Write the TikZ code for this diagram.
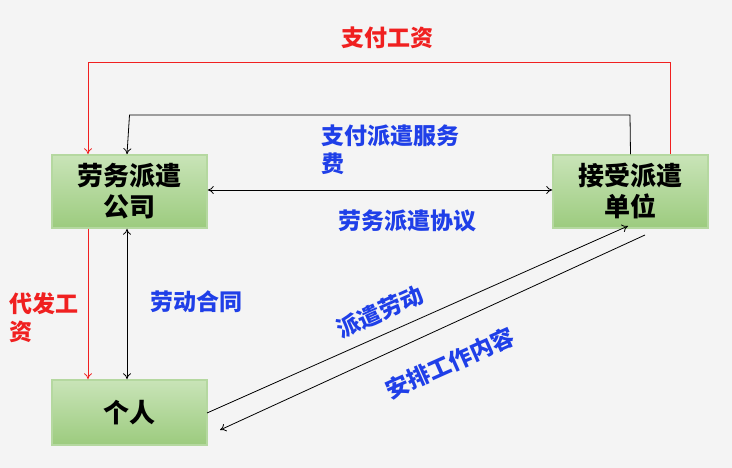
\documentclass[tikz,border=0pt]{standalone}
\usepackage{fontspec}
\setmainfont{Noto Sans CJK SC}
\usetikzlibrary{arrows.meta,positioning}
\definecolor{bg}{HTML}{F4F4F4}
\definecolor{gtop}{HTML}{C9E4B8}
\definecolor{gbot}{HTML}{9CCB7E}
\definecolor{gedge}{HTML}{B5D8A0}
\definecolor{lblue}{HTML}{1F3FE8}
\definecolor{lred}{HTML}{F02020}
\begin{document}
\begin{tikzpicture}[x=1pt,y=-1pt,
 box/.style={draw=gedge,line width=1.5pt,top color=gtop,bottom color=gbot,minimum width=155pt,align=center,font=\fontsize{26}{31}\selectfont\bfseries,text=black},
 lab/.style={font=\fontsize{23}{28}\selectfont\bfseries,text=lblue,align=left,inner sep=1pt},
 rlab/.style={font=\fontsize{23}{28}\selectfont\bfseries,text=lred,align=left,inner sep=1pt},
 arr/.style={-{To[length=6pt,width=8pt]},line width=0.8pt},
 darr/.style={{To[length=6pt,width=8pt]}-{To[length=6pt,width=8pt]},line width=0.8pt}]
\fill[bg] (0,0) rectangle (732,468);
\useasboundingbox (0,0) rectangle (732,468);
\node[box,minimum height=73pt] (A) at (129.5,191.5) {劳务派遣\\公司};
\node[box,minimum height=73pt] (B) at (630.5,191.5) {接受派遣\\单位};
\node[box,minimum height=65pt] (C) at (129.5,412.5) {个人};
\coordinate (r1) at (670,62); \coordinate (r2) at (88,62);
\draw[arr,lred] ([xshift=40pt]B.north) -- ([xshift=40pt]B.north |- r1) -- (r2) -- ([xshift=-41.5pt]A.north);
\node[rlab] (t1) at (387,38) {支付工资};
\coordinate (k1) at (630,115);
\draw[arr] (B.north) -- (k1) -- (A.north |- k1) -- ([xshift=-2.5pt]A.north);
\node[lab,anchor=west] (t2) at (320,150) {支付派遣服务\\费};
\draw[darr] (A.east |- 0,190) -- (B.west |- 0,190);
\node[lab] (t3) at (407,221) {劳务派遣协议};
\draw[arr,lred] ([xshift=-41.5pt]A.south) -- ([xshift=-41.5pt]C.north);
\node[rlab,anchor=west] (t4) at (8,318) {代发工\\资};
\draw[darr] ([xshift=-2.5pt]A.south) -- ([xshift=-2.5pt]C.north);
\node[lab] (t5) at (196,302) {劳动合同};
\coordinate (d1) at (207,413); \coordinate (d2) at (628,226);
\draw[arr] (d1) -- (d2);
\coordinate (e1) at (645,235); \coordinate (e2) at (220,430);
\draw[arr] (e1) -- (e2);
\node[lab,rotate=24] (t6) at (380,312) {派遣劳动};
\node[lab,rotate=24] (t7) at (450,363) {安排工作内容};
\end{tikzpicture}
\end{document}
